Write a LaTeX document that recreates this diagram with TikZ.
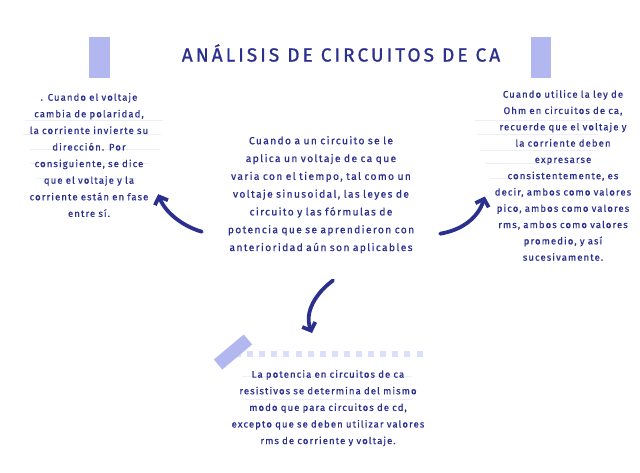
\documentclass[tikz,border=0pt]{standalone}
\usepackage{fontspec}
\setmainfont{Fira Sans}
\usetikzlibrary{arrows.meta,positioning,calc}
\definecolor{ink}{HTML}{2B2F8E}
\definecolor{tapeblue}{HTML}{B3B7EF}
\definecolor{dotblue}{HTML}{DCDFFA}
\definecolor{ruleline}{HTML}{ECEEF8}

\begin{document}
\begin{tikzpicture}[x=1pt, y=-1pt,
  every node/.style={text=ink},
  note/.style={align=center, inner sep=0pt, anchor=north,
               font=\addfontfeature{LetterSpace=11,FakeBold=0.6}\fontsize{9.6}{16.6}\selectfont},
  tape/.style={fill=tapeblue, draw=none},
  dot/.style={fill=dotblue, draw=none},
  rule/.style={ruleline, line width=0.8pt},
  arr/.style={-{Straight Barb[length=6.5pt,width=14pt]}, ink,
              line width=3.8pt, line cap=round}
]
\useasboundingbox (0,0) rectangle (640,472);

% title and tapes
\node[font=\addfontfeature{LetterSpace=16,FakeBold=1}\fontsize{19}{22}\selectfont] (title)
  at (341,53) {ANÁLISIS DE CIRCUITOS DE CA};
\fill[tape] (89,37) rectangle (110,78);
\fill[tape] (531,37) rectangle (551,78);

% ruled lines behind the side notes
\draw[rule] (25,120) -- (163,120);
\draw[rule] (23,134) -- (161,134);
\draw[rule] (30,149) -- (160,149);
\draw[rule] (30,163) -- (150,163);
\draw[rule] (36,178) -- (136,178);
\draw[rule] (475,120) -- (600,120);
\draw[rule] (477,134) -- (598,134);
\draw[rule] (480,150) -- (596,150);
\draw[rule] (485,163) -- (590,163);
\draw[rule] (490,178) -- (585,178);
\draw[rule] (242,376) -- (412,376);
\draw[rule] (243,399) -- (412,399);

% dotted strip and tilted tape
\foreach \i in {0,...,15}
  \fill[dot] ({238+\i*12.1-3},351) rectangle ++(6,6);
\fill[tape, rotate around={40:(233,352)}] (213.5,345.5) rectangle (252.5,358.5);

% notes
\node[note, text width=210pt, font=\addfontfeature{LetterSpace=13,FakeBold=0.6}\fontsize{10.3}{17.8}\selectfont]
  (main) at (321,136) {Cuando a un circuito se le\\ aplica un voltaje de ca que\\
  varia con el tiempo, tal como un\\ voltaje sinusoidal, las leyes de\\
  circuito y las fórmulas de\\ potencia que se aprendieron con\\
  anterioridad aún son aplicables};
\node[note, text width=140pt] (polar) at (89,93) {. Cuando el voltaje\\
  cambia de polaridad,\\ la corriente invierte su\\ dirección. Por\\
  consiguiente, se dice\\ que el voltaje y la\\ corriente están en fase\\ entre sí.};
\node[note, text width=150pt, font=\addfontfeature{LetterSpace=11,FakeBold=0.6}\fontsize{9.6}{16.3}\selectfont]
  (ohm) at (563,90) {Cuando utilice la ley de\\ Ohm en circuitos de ca,\\
  recuerde que el voltaje y\\ la corriente deben\\ expresarse\\
  consistentemente, es\\ decir, ambos como valores\\ pico, ambos como valores\\
  rms, ambos como valores\\ promedio, y así\\ sucesivamente.};
\node[note, text width=210pt] (power) at (328,370) {La potencia en circuitos de ca\\
  resistivos se determina del mismo\\ modo que para circuitos de cd,\\
  excepto que se deben utilizar valores\\ rms de corriente y voltaje.};

% arrows
\draw[arr] ($(main.west)+(-14,37)$) .. controls (182,226) and (165,212)
  .. ($(polar.south east)+(-1,-23)$);
\draw[arr] ($(main.east)+(14,39)$) .. controls (462,230) and (478,218)
  .. ($(ohm.west)+(-3,21)$);
\draw[arr] ($(main.south)+(12,27)$) .. controls (316,293) and (304,312)
  .. ($(power.north)+(-16,-37)$);
\end{tikzpicture}
\end{document}
